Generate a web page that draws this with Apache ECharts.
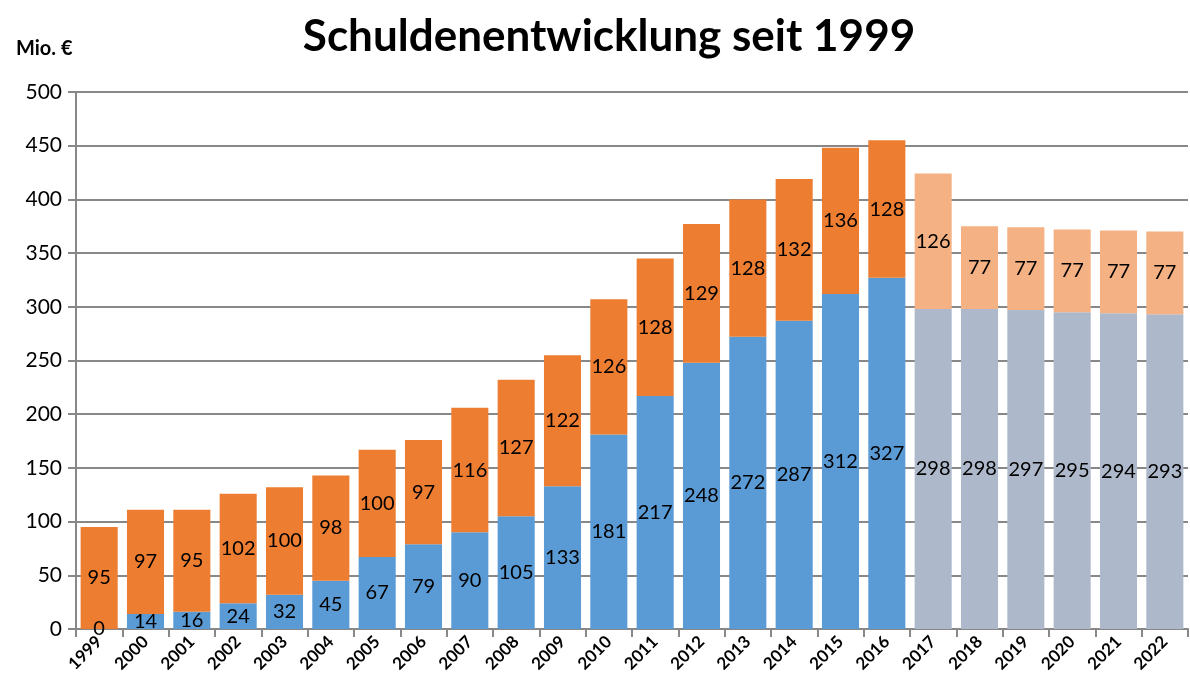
<!DOCTYPE html>
<html><head><meta charset="utf-8">
<script src="https://cdn.jsdelivr.net/npm/echarts@6/dist/echarts.min.js"></script>
<style>html,body{margin:0;padding:0;background:#fff}#c{width:1190px;height:686px}</style>
</head><body><div id="c"></div>
<script>
const years = ['1999','2000','2001','2002','2003','2004','2005','2006','2007','2008','2009','2010','2011','2012','2013','2014','2015','2016','2017','2018','2019','2020','2021','2022'];
const baseDebt = [0,14,16,24,32,45,67,79,90,105,133,181,217,248,272,287,312,327,298,298,297,295,294,293];
const addedDebt = [95,97,95,102,100,98,100,97,116,127,122,126,128,129,128,132,136,128,126,77,77,77,77,77];
const forecastYears = ['2017','2018','2019','2020','2021','2022'];
const yTicks = [0,50,100,150,200,250,300,350,400,450,500];

const C = {blue:'#5B9BD5', orange:'#ED7D31', blueF:'#ADB9CA', orangeF:'#F4B183'};
const font = 'Lato, "Open Sans", sans-serif';

function mk(vals, col, colF){
  return vals.map((v,i)=>({value:v, itemStyle:{color: forecastYears.includes(years[i]) ? colF : col}}));
}
const lbl = {show:true, position:'inside', color:'#000', fontSize:20, fontFamily:font};

const chart = echarts.init(document.getElementById('c'));
chart.setOption({
  animation:false,
  title:[{text:'Schuldenentwicklung seit 1999', left:604, textAlign:'center', top:10,
          textStyle:{fontSize:44, fontWeight:'bold', fontFamily:font, color:'#000'}},
         {text:'Mio. €', left:11, top:34, textStyle:{fontSize:20, fontWeight:'bold', fontFamily:font, color:'#000'}}],
  grid:{left:76, right:2, top:92, bottom:57},
  xAxis:{type:'category', data:years,
    axisLine:{lineStyle:{color:'#888', width:2}},
    axisTick:{show:true, length:8, lineStyle:{color:'#888', width:2}},
    axisLabel:{rotate:45, fontSize:17, fontFamily:font, fontWeight:'bold', color:'#000', margin:10, interval:0}},
  yAxis:{type:'value', min:0, max:500, interval:50,
    axisLine:{show:true, lineStyle:{color:'#888', width:2}},
    axisTick:{show:true, length:8, inside:false, lineStyle:{color:'#888', width:2}},
    splitLine:{lineStyle:{color:'#888', width:2}},
    axisLabel:{fontSize:21, fontFamily:font, color:'#000', margin:14,
      formatter:v=>yTicks.includes(v)?String(v):''}},
  series:[
    {type:'bar', stack:'s', data:mk(baseDebt,C.blue,C.blueF), barCategoryGap:'20%', label:lbl},
    {type:'bar', stack:'s', data:mk(addedDebt,C.orange,C.orangeF), barCategoryGap:'20%', label:lbl}
  ]
});
</script></body></html>
